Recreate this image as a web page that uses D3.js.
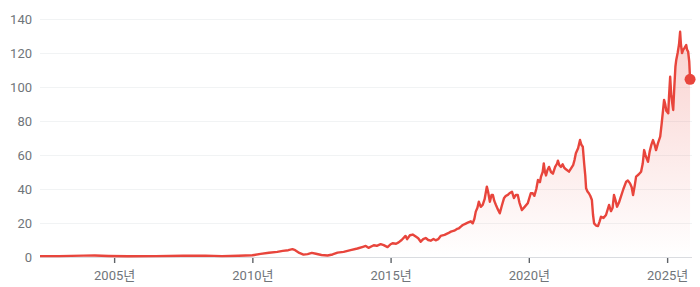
<!DOCTYPE html>
<html>
<head>
<meta charset="utf-8">
<script src="https://cdn.jsdelivr.net/npm/d3@7"></script>
<style>
  html, body { margin: 0; padding: 0; background: #fff; }
  svg { display: block; font-family: Roboto, "Noto Sans CJK KR", sans-serif; }
</style>
</head>
<body>
<svg id="chart" width="700" height="287"></svg>
<script>
/* Price history line, Korean year labels. */

// decimal years
const years = [
  2002.32, 2003.0, 2003.9, 2004.3, 2004.8, 2005.5, 2006.5, 2007.5, 2008.3, 2008.9,
  2009.5, 2010.0, 2010.3, 2010.6, 2010.9, 2011.1, 2011.3, 2011.45, 2011.55, 2011.7,
  2011.85, 2012.0, 2012.15, 2012.3, 2012.5, 2012.72, 2012.9, 2013.08, 2013.3, 2013.55,
  2013.8, 2014.0, 2014.1, 2014.2, 2014.39, 2014.5, 2014.64, 2014.75, 2014.89, 2015.0,
  2015.07, 2015.2, 2015.29, 2015.4, 2015.54, 2015.6, 2015.7, 2015.8, 2015.91, 2016.0,
  2016.09, 2016.18, 2016.27, 2016.36, 2016.45, 2016.55, 2016.63, 2016.72, 2016.81, 2016.95,
  2017.08, 2017.18, 2017.3, 2017.4, 2017.47, 2017.55, 2017.61, 2017.7, 2017.79, 2017.9,
  2017.97, 2018.03, 2018.08, 2018.14, 2018.19, 2018.26, 2018.33, 2018.4, 2018.48, 2018.53,
  2018.59, 2018.65, 2018.7, 2018.75, 2018.81, 2018.88, 2018.95, 2019.02, 2019.1, 2019.17,
  2019.24, 2019.3, 2019.39, 2019.46, 2019.53, 2019.6, 2019.66, 2019.75, 2019.85, 2019.96,
  2020.07, 2020.14, 2020.2, 2020.27, 2020.33, 2020.4, 2020.44, 2020.5, 2020.54, 2020.58,
  2020.62, 2020.67, 2020.73, 2020.8, 2020.87, 2020.95, 2021.02, 2021.05, 2021.1, 2021.16,
  2021.22, 2021.28, 2021.34, 2021.45, 2021.52, 2021.6, 2021.65, 2021.7, 2021.78, 2021.85,
  2021.9, 2021.95, 2022.0, 2022.04, 2022.07, 2022.12, 2022.17, 2022.22, 2022.28, 2022.32,
  2022.36, 2022.43, 2022.5, 2022.56, 2022.61, 2022.7, 2022.79, 2022.9, 2022.97, 2023.03,
  2023.08, 2023.14, 2023.19, 2023.26, 2023.33, 2023.42, 2023.52, 2023.58, 2023.66, 2023.72,
  2023.77, 2023.83, 2023.88, 2023.97, 2024.06, 2024.12, 2024.17, 2024.22, 2024.26, 2024.31,
  2024.37, 2024.43, 2024.49, 2024.55, 2024.6, 2024.67, 2024.75, 2024.8, 2024.85, 2024.89,
  2024.93, 2024.97, 2025.04, 2025.07, 2025.11, 2025.15, 2025.19, 2025.22, 2025.26, 2025.3,
  2025.33, 2025.38, 2025.43, 2025.47, 2025.5, 2025.54, 2025.58, 2025.63, 2025.69, 2025.72,
  2025.76, 2025.8, 2025.83
];
const prices = [
  0.5, 0.5, 0.8, 0.9, 0.6, 0.4, 0.5, 0.7, 0.8, 0.5,
  0.7, 1.0, 1.8, 2.5, 3.0, 3.6, 4.0, 4.6, 4.0, 2.4,
  1.4, 1.7, 2.4, 1.9, 1.2, 0.9, 1.5, 2.6, 3.0, 4.0,
  5.0, 6.0, 6.5, 5.4, 6.9, 6.6, 7.6, 7.0, 5.8, 7.5,
  8.1, 7.8, 8.6, 10.0, 12.4, 10.5, 12.8, 13.2, 12.0, 11.0,
  9.0, 10.5, 11.2, 10.0, 9.6, 10.6, 9.8, 10.5, 12.4, 13.0,
  14.0, 14.9, 15.5, 16.5, 16.9, 18.0, 18.8, 19.5, 20.2, 21.0,
  19.8, 22.5, 26.7, 29.0, 32.5, 29.5, 30.6, 34.0, 41.4, 38.0,
  32.5, 36.5, 36.5, 33.0, 30.6, 28.0, 25.7, 30.0, 34.5, 36.0,
  36.5, 37.5, 38.4, 34.7, 36.5, 36.5, 32.0, 27.6, 29.5, 31.6,
  37.5, 37.5, 36.0, 40.0, 45.3, 44.0, 47.3, 50.0, 55.0, 50.0,
  48.0, 51.0, 53.0, 50.0, 49.0, 53.0, 55.0, 56.7, 54.0, 53.0,
  54.5, 52.5, 51.6, 50.2, 52.0, 54.0, 57.0, 61.0, 64.0, 68.8,
  66.0, 64.9, 55.0, 48.0, 40.4, 38.5, 37.5, 36.0, 33.5, 25.0,
  19.8, 18.5, 18.2, 21.0, 23.7, 23.0, 24.7, 30.6, 27.0, 29.0,
  36.5, 33.0, 29.6, 32.0, 35.5, 40.0, 44.3, 45.0, 43.3, 41.0,
  36.5, 42.0, 47.3, 48.5, 50.2, 55.0, 62.9, 60.0, 58.0, 56.0,
  62.0, 66.0, 68.8, 66.0, 62.9, 67.0, 70.8, 78.0, 86.0, 92.4,
  90.0, 86.0, 84.5, 95.0, 106.0, 95.0, 90.0, 86.5, 100.0, 112.0,
  115.9, 120.0, 125.0, 132.5, 125.0, 120.0, 121.8, 123.0, 124.7, 122.0,
  120.8, 115.0, 104.5
];
const yTicks = [0, 20, 40, 60, 80, 100, 120, 140];
const xTickYears = [2005, 2010, 2015, 2020, 2025];
const xLabelSuffix = "년";

const W = 700, H = 287;
const margin = { top: 19, right: 8, bottom: 30, left: 40 };
const lineColor = "#e8453c";

const toDate = (y) => {
  const yr = Math.floor(y);
  const start = Date.UTC(yr, 0, 1), end = Date.UTC(yr + 1, 0, 1);
  return new Date(start + (y - yr) * (end - start));
};

const data = years.map((y, i) => ({ date: toDate(y), value: prices[i] }));

const x = d3.scaleUtc()
  .domain([toDate(2002.32), toDate(2025.9)])
  .range([margin.left, W - margin.right]);
const y = d3.scaleLinear()
  .domain([0, 140])
  .range([H - margin.bottom, margin.top]);

const svg = d3.select("#chart");

const defs = svg.append("defs");
const grad = defs.append("linearGradient")
  .attr("id", "fillGrad")
  .attr("gradientUnits", "userSpaceOnUse")
  .attr("x1", 0).attr("x2", 0)
  .attr("y1", y(140)).attr("y2", y(0));
grad.append("stop").attr("offset", "0%").attr("stop-color", lineColor).attr("stop-opacity", 0.26);
grad.append("stop").attr("offset", "100%").attr("stop-color", lineColor).attr("stop-opacity", 0.0);

// gridlines
svg.append("g")
  .selectAll("line")
  .data(yTicks)
  .join("line")
  .attr("x1", margin.left)
  .attr("x2", W - margin.right)
  .attr("y1", (d) => y(d) + 0.5)
  .attr("y2", (d) => y(d) + 0.5)
  .attr("stroke", (d) => (d === 0 ? "#dadce0" : "#f1f3f4"))
  .attr("stroke-width", 1);

// y labels
svg.append("g")
  .selectAll("text")
  .data(yTicks)
  .join("text")
  .attr("x", margin.left - 8)
  .attr("y", (d) => y(d))
  .attr("dy", "0.35em")
  .attr("text-anchor", "end")
  .attr("fill", "#70757a")
  .attr("font-size", 13)
  .text((d) => d);

// x axis ticks + labels
const xAxis = d3.axisBottom(x)
  .tickValues(xTickYears.map((yr) => new Date(Date.UTC(yr, 0, 1))))
  .tickSize(5)
  .tickPadding(8)
  .tickFormat((d) => d.getUTCFullYear() + xLabelSuffix);

const gx = svg.append("g")
  .attr("transform", `translate(0,${y(0) + 1})`)
  .call(xAxis);
gx.select(".domain").remove();
gx.selectAll(".tick line").attr("stroke", "#5f6368").attr("stroke-width", 1.4);
gx.selectAll(".tick text")
  .attr("fill", "#70757a")
  .attr("font-size", 13)
  .attr("font-family", 'Roboto, "Noto Sans CJK KR", sans-serif');

// area + line
const area = d3.area()
  .x((d) => x(d.date))
  .y0(y(0))
  .y1((d) => y(d.value));
const line = d3.line()
  .x((d) => x(d.date))
  .y((d) => y(d.value));

svg.append("path")
  .datum(data)
  .attr("d", area)
  .attr("fill", "url(#fillGrad)");

svg.append("path")
  .datum(data)
  .attr("d", line)
  .attr("fill", "none")
  .attr("stroke", lineColor)
  .attr("stroke-width", 2.4)
  .attr("stroke-linejoin", "round");

const last = data[data.length - 1];
svg.append("circle")
  .attr("cx", x(last.date))
  .attr("cy", y(last.value))
  .attr("r", 5.5)
  .attr("fill", lineColor);
</script>
</body>
</html>
